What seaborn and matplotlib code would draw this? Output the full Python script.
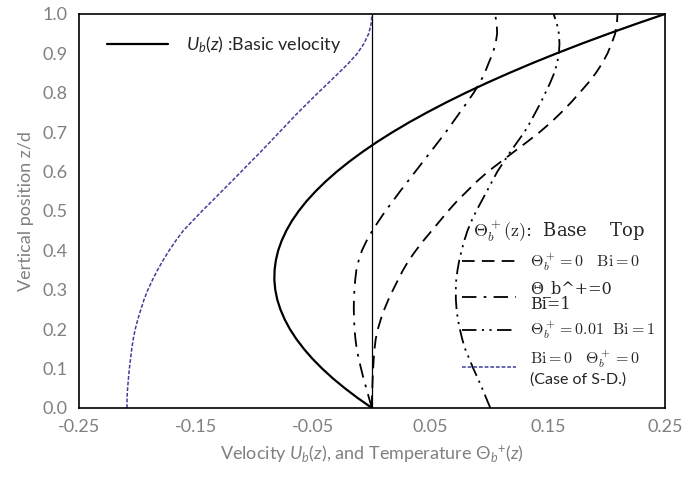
import numpy as np
import pandas as pd
import seaborn as sns
import matplotlib.pyplot as plt
from matplotlib.lines import Line2D

# vertical position z/d
z = [0.0, 0.025, 0.05, 0.075, 0.1, 0.125, 0.15, 0.175, 0.2, 0.225,
     0.25, 0.275, 0.3, 0.325, 0.35, 0.375, 0.4, 0.425, 0.45, 0.475,
     0.5, 0.525, 0.55, 0.575, 0.6, 0.625, 0.65, 0.675, 0.7, 0.725,
     0.75, 0.775, 0.8, 0.825, 0.85, 0.875, 0.9, 0.925, 0.95, 0.975, 1.0]

# basic velocity U_b(z)
u_basic = [0.0, -0.0120, -0.0231, -0.0333, -0.0425, -0.0508, -0.0581, -0.0645, -0.0700, -0.0745,
           -0.0781, -0.0808, -0.0825, -0.0833, -0.0831, -0.0820, -0.0800, -0.0770, -0.0731, -0.0683,
           -0.0625, -0.0558, -0.0481, -0.0395, -0.0300, -0.0195, -0.0081, 0.0042, 0.0175, 0.0317,
           0.0469, 0.0630, 0.0800, 0.0980, 0.1169, 0.1367, 0.1575, 0.1792, 0.2019, 0.2255, 0.2500]

# temperature profiles Theta_b^+(z)
th_0_bi0 = [0.0, 0.0, 0.0003, 0.0006, 0.0010, 0.0015, 0.0022, 0.0032, 0.0050, 0.0075,
            0.0105, 0.0140, 0.0180, 0.0222, 0.0265, 0.0315, 0.0375, 0.0440, 0.0510, 0.0580,
            0.0650, 0.0725, 0.0810, 0.0895, 0.0990, 0.1100, 0.1210, 0.1322, 0.1430, 0.1528,
            0.1615, 0.1697, 0.1772, 0.1845, 0.1910, 0.1965, 0.2010, 0.2045, 0.2075, 0.2090, 0.2095]
th_0_bi1 = [0.0, -0.0025, -0.0048, -0.0072, -0.0093, -0.0113, -0.0130, -0.0141, -0.0149, -0.0153,
            -0.0155, -0.0154, -0.0150, -0.0143, -0.0133, -0.0113, -0.0085, -0.0045, 0.0003, 0.0058,
            0.0115, 0.0178, 0.0240, 0.0305, 0.0370, 0.0435, 0.0500, 0.0565, 0.0630, 0.0690,
            0.0750, 0.0810, 0.0868, 0.0920, 0.0962, 0.0995, 0.1030, 0.1055, 0.1068, 0.1065, 0.1050]
th_001_bi1 = [0.1010, 0.0975, 0.0940, 0.0903, 0.0865, 0.0830, 0.0795, 0.0770, 0.0750, 0.0733,
              0.0722, 0.0716, 0.0715, 0.0719, 0.0730, 0.0745, 0.0765, 0.0788, 0.0815, 0.0850,
              0.0890, 0.0935, 0.0980, 0.1025, 0.1070, 0.1125, 0.1180, 0.1240, 0.1300, 0.1350,
              0.1395, 0.1440, 0.1480, 0.1520, 0.1555, 0.1580, 0.1595, 0.1600, 0.1595, 0.1578, 0.1550]
th_sd = [-0.2090, -0.2090, -0.2085, -0.2078, -0.2070, -0.2060, -0.2050, -0.2037, -0.2020, -0.1998,
         -0.1972, -0.1945, -0.1912, -0.1873, -0.1830, -0.1782, -0.1730, -0.1673, -0.1610, -0.1530,
         -0.1450, -0.1365, -0.1282, -0.1198, -0.1115, -0.1033, -0.0950, -0.0870, -0.0790, -0.0710,
         -0.0630, -0.0545, -0.0460, -0.0372, -0.0285, -0.0200, -0.0125, -0.0068, -0.0028, -0.0007, 0.0]

x_ticks = [-0.25, -0.2, -0.15, -0.1, -0.05, 0.0, 0.05, 0.1, 0.15, 0.2, 0.25]
x_tick_labels = ['-0.25', '', '-0.15', '', '-0.05', '', '0.05', '', '0.15', '', '0.25']
y_ticks = [0.0, 0.1, 0.2, 0.3, 0.4, 0.5, 0.6, 0.7, 0.8, 0.9, 1.0]
y_tick_labels = ['0.0', '0.1', '0.2', '0.3', '0.4', '0.5', '0.6', '0.7', '0.8', '0.9', '1.0']

sns.set_style("white")
plt.rcParams['font.family'] = ['Lato', 'DejaVu Sans']
plt.rcParams['mathtext.fontset'] = 'custom'
plt.rcParams['mathtext.rm'] = 'Lato'
plt.rcParams['mathtext.it'] = 'Lato:italic'

gray = '#808080'
blue = '#3f3f99'
ls_dash = (0, (7, 4))
ls_dashdot = (0, (8, 4, 1.5, 4))
ls_dashdotdot = (0, (8, 3, 1.2, 3, 1.2, 3))
ls_short = (0, (2.5, 1.2))

fig = plt.figure(figsize=(6.82, 4.86), dpi=100)
ax = fig.add_axes([0.1158, 0.1605, 0.8592, 0.8107])

df = pd.DataFrame({"z": z, "u": u_basic, "a": th_0_bi0, "b": th_0_bi1,
                   "c": th_001_bi1, "d": th_sd})

ax.axvline(0, color='black', lw=0.9)
sns.lineplot(data=df, x="d", y="z", sort=False, estimator=None, ax=ax,
             color=blue, lw=1.1, linestyle=ls_short)
sns.lineplot(data=df, x="a", y="z", sort=False, estimator=None, ax=ax,
             color='black', lw=1.3, linestyle=ls_dash)
sns.lineplot(data=df, x="b", y="z", sort=False, estimator=None, ax=ax,
             color='black', lw=1.3, linestyle=ls_dashdot)
sns.lineplot(data=df, x="c", y="z", sort=False, estimator=None, ax=ax,
             color='black', lw=1.3, linestyle=ls_dashdotdot)
sns.lineplot(data=df, x="u", y="z", sort=False, estimator=None, ax=ax,
             color='black', lw=1.6)

ax.set_xlim(-0.25, 0.25)
ax.set_ylim(0, 1.0)
ax.set_xticks(x_ticks)
ax.set_xticklabels(x_tick_labels)
ax.set_yticks(y_ticks)
ax.set_yticklabels(y_tick_labels)
ax.tick_params(direction='in', length=6, width=1, colors='black',
               labelcolor=gray, labelsize=13, pad=8)
for s in ax.spines.values():
    s.set_color('black')
    s.set_linewidth(1.2)

ax.set_xlabel(r"Velocity $U_b$($z$), and Temperature $\Theta_b$$^{+}$($z$)",
              color=gray, fontsize=13, labelpad=6)
ax.set_ylabel("Vertical position z/d", color=gray, fontsize=13, labelpad=6)

# legend for the velocity
h1 = [Line2D([], [], color='black', lw=1.6)]
leg1 = ax.legend(h1, [r"$U_b(z)$ :Basic velocity"], loc='upper left',
                 bbox_to_anchor=(0.02, 0.99), frameon=False, fontsize=13,
                 handlelength=3.4, handletextpad=1.0)
ax.add_artist(leg1)

# legend for the temperature profiles
h2 = [Line2D([], [], color='black', lw=1.3, linestyle=ls_dash),
      Line2D([], [], color='black', lw=1.3, linestyle=ls_dashdot),
      Line2D([], [], color='black', lw=1.3, linestyle=ls_dashdotdot),
      Line2D([], [], color=blue, lw=1.1, linestyle=ls_short)]
labels2 = [r"$\Theta_b^+ = 0\quad \mathrm{Bi} = 0$",
           "\u0398_b^+=0\nBi=1",
           r"$\Theta_b^+ = 0.01\ \ \mathrm{Bi} = 1$",
           "$\\mathrm{Bi} = 0\\quad \\Theta_b^+ = 0$\n(Case of S-D.)"]
leg2 = ax.legend(h2, labels2, loc='lower right', bbox_to_anchor=(1.0, 0.03),
                 frameon=False, fontsize=11.5, handlelength=3.4, handletextpad=0.9,
                 labelspacing=0.45, borderpad=0.1,
                 title=r"$\Theta_b^+(\mathrm{z})$:  Base    Top", title_fontsize=13)
leg2._legend_box.align = 'center'
tt = leg2.get_title()
tt.set_fontfamily('DejaVu Serif')
tt.set_math_fontfamily('cm')
for i, t in enumerate(leg2.get_texts()):
    t.set_math_fontfamily('cm')
    if i == 1:
        t.set_fontfamily('DejaVu Serif')
        t.set_linespacing(0.9)

fig.savefig("out.png", dpi=100)
